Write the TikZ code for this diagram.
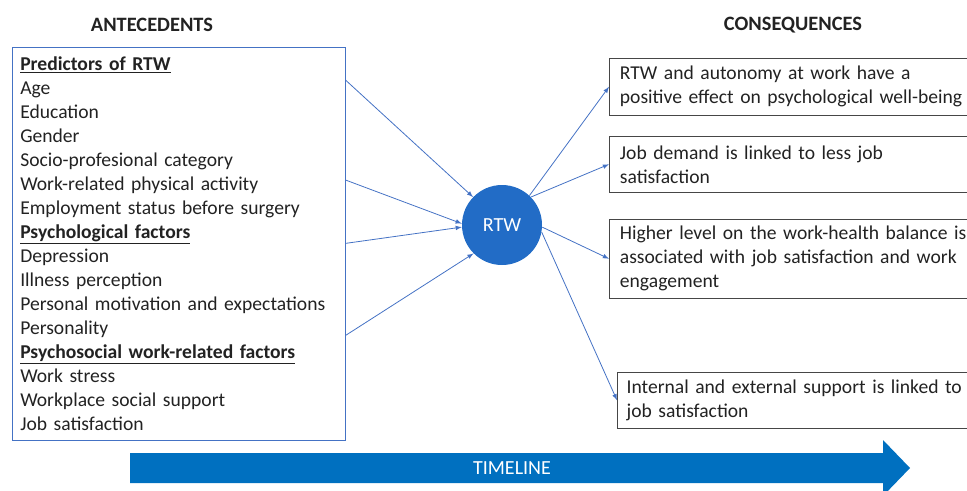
\documentclass[tikz,border=0pt]{standalone}
\usepackage{xcolor}
\usepackage{fontspec}
\setmainfont{Carlito}
\usepackage{tikz}
\usetikzlibrary{shapes,arrows,positioning,calc}

\definecolor{linkblue}{RGB}{68,114,196}
\definecolor{rtwblue}{RGB}{34,108,198}
\definecolor{timeblue}{RGB}{0,112,192}
\definecolor{inkgray}{RGB}{34,34,34}
\definecolor{edgegray}{RGB}{70,70,70}

\begin{document}
\begin{tikzpicture}[x=0.75pt, y=-0.75pt,
    font=\fontsize{14.7}{18}\selectfont, text=inkgray,
    heading/.style={font=\fontsize{15.3}{18}\selectfont\bfseries},
    listbox/.style={draw=linkblue, anchor=north west, align=left, inner xsep=6pt,
        text width=237.75pt, minimum width=249.75pt, minimum height=294.75pt},
    effect/.style={draw=edgegray, anchor=north west, align=left, inner xsep=8pt,
        text width=262pt, minimum width=278pt},
    rel/.style={->, >=latex, draw=linkblue, line width=0.6pt}]

    \clip (0,0) rectangle (967,490);

    % Headings
    \node[heading] (antehead) at (152,25) {ANTECEDENTS};
    \node[heading] (conshead) at (793,25) {CONSEQUENCES};

    % Nodes
    \node[listbox] (ante) at (12,47) {%
        \underline{\textbf{Predictors of RTW}}\\
        Age\\
        Education\\
        Gender\\
        Socio-profesional category\\
        Work-related physical activity\\
        Employment status before surgery\\
        \underline{\textbf{Psychological factors}}\\
        Depression\\
        Illness perception\\
        Personal motivation and expectations\\
        Personality\\
        \underline{\textbf{Psychosocial work-related factors}}\\
        Work stress\\
        Workplace social support\\
        Job satisfaction};

    \node[circle, fill=rtwblue, text=white, minimum size=60pt, inner sep=0pt,
        font=\fontsize{15}{18}\selectfont] (rtw) at (502,225) {RTW};

    \node[effect, minimum height=42.75pt] (wellbeing) at (609,58)
        {RTW and autonomy at work have a\\ positive effect on psychological well-being};
    \node[effect, minimum height=42pt] (demand) at (609,136)
        {Job demand is linked to less job\\ satisfaction};
    \node[effect, minimum height=59.25pt] (balance) at (609,219)
        {Higher level on the work-health balance is\\ associated with job satisfaction and work\\ engagement};
    \node[effect, minimum height=42pt, inner xsep=7pt, minimum width=276pt] (support) at (617,372)
        {Internal and external support is linked to\\ job satisfaction};

    % Relationships
    \coordinate (a1) at ($(ante.north east)!0.084!(ante.south east)$);
    \coordinate (a2) at ($(ante.north east)!0.338!(ante.south east)$);
    \coordinate (a3) at ($(ante.north east)!0.499!(ante.south east)$);
    \coordinate (a4) at ($(ante.north east)!0.733!(ante.south east)$);
    \draw[rel] (a1) -- (rtw.136);
    \draw[rel] (a2) -- (rtw.178);
    \draw[rel] (a3) -- (rtw.183);
    \draw[rel] (a4) -- (rtw.225);

    \draw[rel] (rtw.47) -- (wellbeing.west);
    \draw[rel] (rtw.44) -- (demand.west);
    \draw[rel] (rtw.-3) -- (balance.west);
    \draw[rel] (rtw.-10) -- (support.west);

    % Timeline
    \fill[timeblue] (130,453) -- (883,453) -- (883,440) -- (910,468)
        -- (883,496) -- (883,483) -- (130,483) -- cycle;
    \node[text=white, font=\fontsize{15}{18}\selectfont] (timeline) at (512,468) {TIMELINE};

\end{tikzpicture}
\end{document}
